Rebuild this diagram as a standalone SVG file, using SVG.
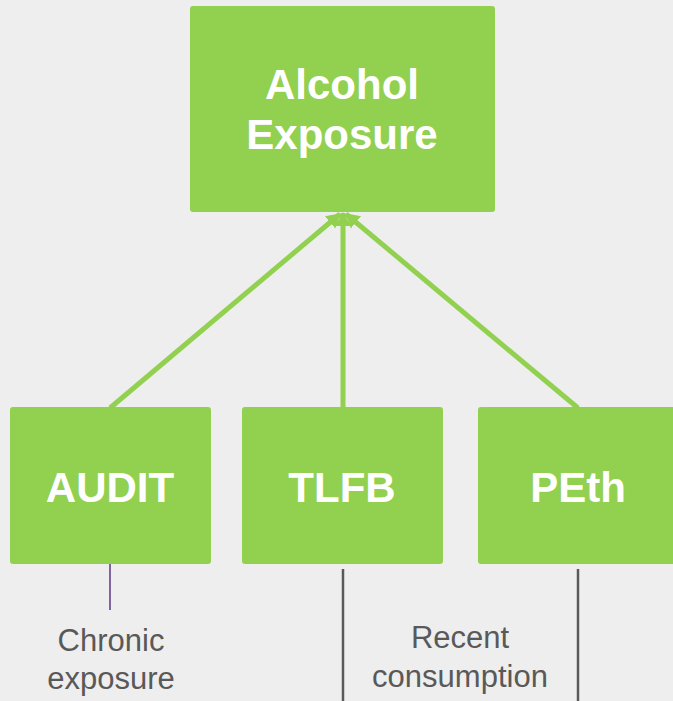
<svg xmlns="http://www.w3.org/2000/svg" width="673" height="701" viewBox="0 0 673 701">
<style>
.box{fill:#92d050;}
.t{font-family:"Liberation Sans",Arial,sans-serif;font-weight:bold;font-size:42px;fill:#ffffff;text-anchor:middle;}
.lbl{font-family:"Liberation Sans",Arial,sans-serif;font-size:31px;fill:#595959;text-anchor:middle;}
.conn{stroke:#92d050;stroke-width:5;fill:none;}
</style>
<defs>
<marker id="ah" markerUnits="userSpaceOnUse" markerWidth="16" markerHeight="18" refX="13" refY="9" orient="auto" viewBox="0 0 16 18">
<path d="M0,1 L14,9 L0,17 Z" fill="#92d050"/>
</marker>
</defs>
<rect width="673" height="701" fill="#eeeeee"/>
<g id="connectors">
<line class="conn" x1="110" y1="408" x2="340" y2="214" marker-end="url(#ah)"/>
<line class="conn" x1="343" y1="408" x2="343" y2="213" marker-end="url(#ah)"/>
<line class="conn" x1="578" y1="408" x2="346" y2="214" marker-end="url(#ah)"/>
<line x1="110" y1="564" x2="110" y2="610" stroke="#8064a2" stroke-width="2"/>
<line x1="343" y1="569" x2="343" y2="701" stroke="#595959" stroke-width="2.5"/>
<line x1="578" y1="569" x2="578" y2="701" stroke="#595959" stroke-width="2.5"/>
</g>
<g id="alcohol-exposure">
<rect class="box" x="190" y="6" width="305" height="206" rx="3"/>
<text class="t" x="342" y="99">Alcohol</text>
<text class="t" x="342" y="149">Exposure</text>
</g>
<g id="audit">
<rect class="box" x="10" y="407" width="201" height="157" rx="3"/>
<text class="t" x="110" y="502">AUDIT</text>
</g>
<g id="tlfb">
<rect class="box" x="242" y="407" width="201" height="157" rx="3"/>
<text class="t" x="342" y="502">TLFB</text>
</g>
<g id="peth">
<rect class="box" x="478" y="407" width="201" height="157" rx="3"/>
<text class="t" x="578" y="502">PEth</text>
</g>
<g id="label-chronic">
<text class="lbl" x="111" y="651">Chronic</text>
<text class="lbl" x="111" y="689">exposure</text>
</g>
<g id="label-recent">
<text class="lbl" x="460" y="648">Recent</text>
<text class="lbl" x="460" y="687">consumption</text>
</g>
</svg>
